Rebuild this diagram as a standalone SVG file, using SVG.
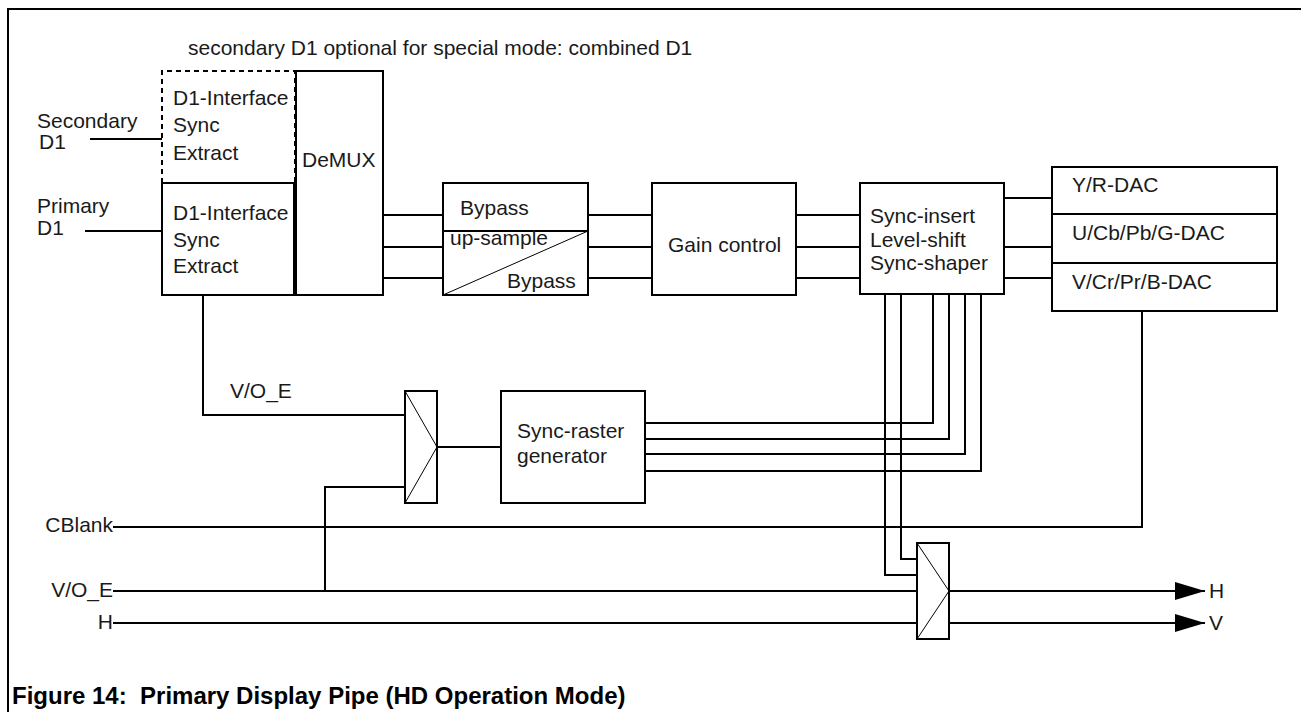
<svg xmlns="http://www.w3.org/2000/svg" width="1301" height="712" viewBox="0 0 1301 712">
<style>
.box{fill:#fff;stroke:#000;stroke-width:2}
.dash{fill:none;stroke:#000;stroke-width:2;stroke-dasharray:5,4}
.ln{fill:none;stroke:#000;stroke-width:2}
.thin{fill:none;stroke:#000;stroke-width:1}
text{font-family:"Liberation Sans",Arial,sans-serif;font-size:21px;fill:#1a1a1a}
.cap{font-weight:bold;font-size:24px;fill:#000}
</style>
<defs>
<marker id="arr" markerWidth="30" markerHeight="18" refX="30" refY="9" orient="auto" markerUnits="userSpaceOnUse">
<path d="M0,0 L30,9 L0,18 Z" fill="#000"/>
</marker>
</defs>
<rect width="1301" height="712" fill="#fff"/>
<path class="ln" d="M8,712 V9 H1301"/>
<text x="188" y="55">secondary D1 optional for special mode: combined D1</text>

<g id="connectors">
<path class="ln" d="M90,139 H162"/>
<path class="ln" d="M85,231 H162"/>
<path class="ln" d="M383,215 H443 M383,247 H443 M383,278 H443"/>
<path class="ln" d="M588,215 H652 M588,247 H652 M588,278 H652"/>
<path class="ln" d="M796,215 H860 M796,247 H860 M796,278 H860"/>
<path class="ln" d="M1004,198 H1052 M1004,247 H1052 M1004,278 H1052"/>
<path class="ln" d="M203,295 V415 H405"/>
<path class="ln" d="M437,447 H501"/>
<path class="ln" d="M645,423 H933 V294 M645,439 H949 V294 M645,454 H965 V294 M645,471 H981 V294"/>
<path class="ln" d="M885,294 V575 H917 M901,294 V559 H917"/>
<path class="ln" d="M1142,311 V527 H113"/>
<path class="ln" d="M113,591 H917 M325,591 V487 H405"/>
<path class="ln" d="M113,623 H917"/>
<path class="ln" d="M949,591 H1205" marker-end="url(#arr)"/>
<path class="ln" d="M949,623 H1205" marker-end="url(#arr)"/>
</g>

<g id="secondary-d1">
<path class="dash" d="M162,183 V71 H295 V183"/>
<text x="173" y="105">D1-Interface</text>
<text x="173" y="132">Sync</text>
<text x="173" y="160">Extract</text>
</g>
<g id="primary-d1">
<rect class="box" x="162" y="183" width="132" height="112"/>
<text x="173" y="220">D1-Interface</text>
<text x="173" y="247">Sync</text>
<text x="173" y="273">Extract</text>
</g>
<g id="demux">
<rect class="box" x="296" y="71" width="87" height="224"/>
<text x="302" y="167">DeMUX</text>
</g>
<g id="bypass">
<rect class="box" x="443" y="183" width="145" height="112"/>
<path class="ln" d="M443,231 H588"/>
<path class="thin" d="M443,295 L588,231"/>
<text x="460" y="215">Bypass</text>
<text x="450" y="245">up-sample</text>
<text x="507" y="288">Bypass</text>
</g>
<g id="gain">
<rect class="box" x="652" y="183" width="144" height="112"/>
<text x="668" y="252">Gain control</text>
</g>
<g id="sync-insert">
<rect class="box" x="860" y="183" width="144" height="111"/>
<text x="870" y="223">Sync-insert</text>
<text x="870" y="247">Level-shift</text>
<text x="870" y="270">Sync-shaper</text>
</g>
<g id="dac">
<rect class="box" x="1052" y="167" width="225" height="144"/>
<path class="ln" d="M1052,214 H1277 M1052,263 H1277"/>
<text x="1072" y="192">Y/R-DAC</text>
<text x="1072" y="240">U/Cb/Pb/G-DAC</text>
<text x="1072" y="289">V/Cr/Pr/B-DAC</text>
</g>
<g id="mux1">
<rect class="box" x="405" y="391" width="32" height="112"/>
<path class="thin" d="M405,391 L437,447 L405,503"/>
</g>
<g id="sync-raster">
<rect class="box" x="501" y="391" width="144" height="112"/>
<text x="517" y="438">Sync-raster</text>
<text x="517" y="463">generator</text>
</g>
<g id="mux2">
<rect class="box" x="917" y="543" width="32" height="96"/>
<path class="thin" d="M917,543 L949,591 L917,639"/>
</g>
<g id="labels">
<text x="37" y="128">Secondary</text>
<text x="39" y="149">D1</text>
<text x="37" y="213">Primary</text>
<text x="37" y="235">D1</text>
<text x="230" y="398">V/O_E</text>
<text x="113" y="532" text-anchor="end">CBlank</text>
<text x="113" y="597" text-anchor="end">V/O_E</text>
<text x="113" y="629" text-anchor="end">H</text>
<text x="1209" y="598">H</text>
<text x="1209" y="630">V</text>
</g>
<text class="cap" x="12" y="704" xml:space="preserve">Figure 14:  Primary Display Pipe (HD Operation Mode)</text>
</svg>
